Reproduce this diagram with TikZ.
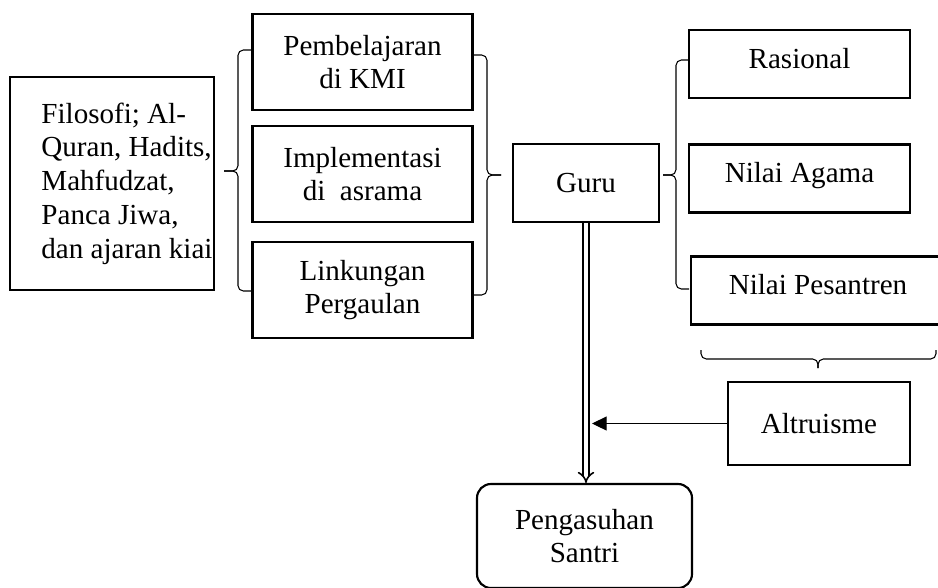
\documentclass[tikz,border=0pt]{standalone}
\usepackage{fontspec}
\setmainfont{Liberation Serif}
\usetikzlibrary{arrows.meta}

\tikzset{every picture/.style={line width=0.75pt}}
\tikzset{
	box/.style={draw,line width=1.6pt,align=center,inner sep=0pt},
	midbox/.style={box,minimum width=165pt,minimum height=72pt},
	valbox/.style={box,text height=28.5pt,text depth=22.5pt,minimum width=165.75pt},
	brc/.style={line width=0.8pt,rounded corners=4pt}}

\begin{document}
\begin{tikzpicture}[x=0.75pt,y=0.75pt,yscale=-1,xscale=1,font=\fontsize{21.8pt}{25.3pt}\selectfont]
	\useasboundingbox (0,0) rectangle (938,587);

	%Shape: Rectangle
	\node[box,minimum width=153pt,minimum height=159.75pt] (filo) at (112,183.5) {};
	% Text Node
	\node[anchor=west,align=left,inner sep=0pt,xshift=24pt] (filotxt) at (filo.west) {Filosofi; Al-\\Quran, Hadits,\\Mahfudzat,\\Panca Jiwa,\\dan ajaran kiai};

	%Shape: Rectangle
	\node[midbox] (pemb) at (362.5,62) {Pembelajaran\\di KMI};
	\node[midbox] (impl) at (362.5,174) {Implementasi\\di\ \ asrama};
	\node[midbox] (link) at (362.5,290) {Linkungan\\Pergaulan};

	%Shape: Rectangle
	\node[box,minimum width=109.5pt,minimum height=58.5pt] (guru) at (586,183) {Guru};

	%Shape: Rectangle
	\node[valbox] (rasi) at (799.5,64) {Rasional};
	\node[valbox] (agam) at (799.5,178.5) {Nilai Agama};
	\node[valbox,minimum width=190.5pt] (pesa) at (818,290.5) {Nilai Pesantren};

	%Shape: Rectangle
	\node[box,minimum width=136.5pt,minimum height=62.25pt] (altr) at (819,423.5) {Altruisme};
	%Shape: Rounded Rect
	\node[box,rounded corners=10.5pt,minimum width=161.25pt,minimum height=78pt] (peng) at (584.5,536) {Pengasuhan\\Santri};

	%Shape: Brace
	\coordinate (lbtop) at (252,50);
	\coordinate (lbbot) at (252,291);
	\coordinate (lbtip) at (224,171);
	\draw[brc] (lbtop) -| (238,171) -- (lbtip);
	\draw[brc] (lbtip) -- (238,171) |- (lbbot);
	%Shape: Brace
	\coordinate (mbtop) at (473,55);
	\coordinate (mbbot) at (473,295);
	\coordinate (mbtip) at (501,175);
	\draw[brc] (mbtop) -| (487,175) -- (mbtip);
	\draw[brc] (mbtip) -- (487,175) |- (mbbot);
	%Shape: Brace
	\coordinate (rbtop) at (689,60);
	\coordinate (rbbot) at (689,289);
	\coordinate (rbtip) at (663,175);
	\draw[brc] (rbtop) -| (676,175) -- (rbtip);
	\draw[brc] (rbtip) -- (676,175) |- (rbbot);
	%Shape: Brace
	\coordinate (bbleft) at (701,350);
	\coordinate (bbright) at (936,350);
	\coordinate (bbtip) at (818,368);
	\draw[brc] (bbleft) |- (818,359) -- (bbtip);
	\draw[brc] (bbtip) -- (818,359) -| (bbright);

	%Straight Lines
	\draw[double,double distance=3pt,line width=1.2pt,-{Implies}] (guru.south) -- (guru.south |- peng.north);
	\coordinate (hit) at (592,423.5);
	\draw[-{Triangle[length=11pt,width=10.5pt]}] (altr.west) -- (hit);

\end{tikzpicture}
\end{document}
